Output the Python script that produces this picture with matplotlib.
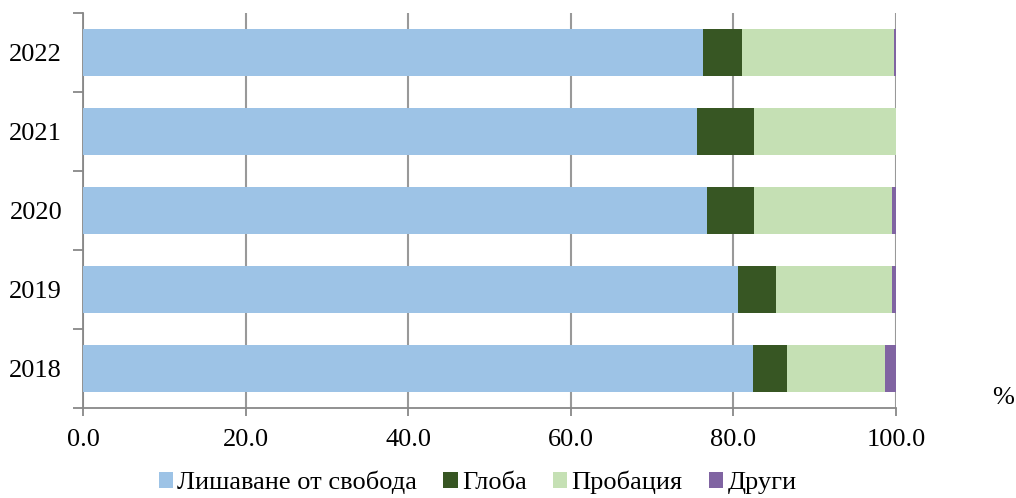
import numpy as np
import matplotlib.pyplot as plt

plt.rcParams['font.family'] = ['Liberation Serif', 'DejaVu Serif']

years = ['2018', '2019', '2020', '2021', '2022']
prison = [82.4, 80.6, 76.8, 75.5, 76.3]
fine = [4.2, 4.6, 5.7, 7.0, 4.8]
probation = [12.0, 14.3, 17.0, 17.5, 18.6]
other = [1.4, 0.5, 0.5, 0.0, 0.3]

labels = ['Лишаване от свобода', 'Глоба', 'Пробация', 'Други']
colors = ['#9dc3e6', '#375623', '#c5e0b4', '#8064a2']

fig = plt.figure(figsize=(10.16, 4.98), dpi=100)
ax = fig.add_axes([0.0817, 0.181, 0.8003, 0.793])

y = np.arange(len(years))
left = np.zeros(len(years))
for vals, lab, col in zip([prison, fine, probation, other], labels, colors):
    ax.barh(y, vals, left=left, height=0.6, color=col, label=lab, zorder=3)
    left += np.array(vals)

ax.set_xlim(0, 100)
ax.set_ylim(-0.5, 4.5)
ax.set_xticks(np.arange(0, 101, 20))
ax.set_xticklabels(['%.1f' % v for v in np.arange(0, 101, 20)])
ax.set_yticks(y)
ax.set_yticklabels(years)
ax.set_yticks(np.arange(-0.5, 5, 1), minor=True)
ax.tick_params(axis='y', which='major', length=0, pad=15, labelsize=19)
ax.tick_params(axis='y', which='minor', length=7, color='#888888', width=1.3)
ax.tick_params(axis='x', length=6, color='#888888', width=1.3, labelsize=19, pad=9)

ax.grid(axis='x', color='#999999', linewidth=1.5, zorder=0)
for s in ['top', 'right']:
    ax.spines[s].set_visible(False)
for s in ['left', 'bottom']:
    ax.spines[s].set_color('#888888')
    ax.spines[s].set_linewidth(1.3)

fig.text(0.998, 0.2, '%', fontsize=19, ha='right', va='center')

fig.legend(loc='lower center', bbox_to_anchor=(0.47, -0.04), ncol=4, frameon=False,
           fontsize=19, handlelength=0.55, handleheight=0.55, handletextpad=0.15,
           columnspacing=1.0)

fig.savefig('out.png', dpi=100)
